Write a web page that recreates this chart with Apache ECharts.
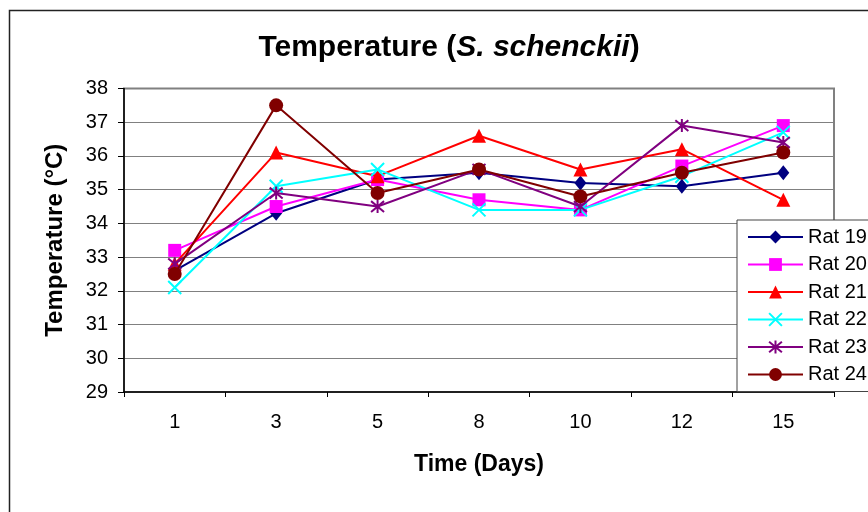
<!DOCTYPE html>
<html>
<head>
<meta charset="utf-8">
<script src="https://cdn.jsdelivr.net/npm/echarts@6/dist/echarts.min.js"></script>
<style>
  html, body { margin: 0; padding: 0; background: #fff; }
  #chart { width: 868px; height: 512px; }
</style>
</head>
<body>
<div id="chart"></div>
<script>
// Sampling days
const days = ['1', '3', '5', '8', '10', '12', '15'];

// Body temperature (°C) per rat
const rat19 = [32.6, 34.3, 35.3, 35.5, 35.2, 35.1, 35.5];
const rat20 = [33.2, 34.5, 35.3, 34.7, 34.4, 35.7, 36.9];
const rat21 = [32.8, 36.1, 35.4, 36.6, 35.6, 36.2, 34.7];
const rat22 = [32.1, 35.1, 35.6, 34.4, 34.4, 35.4, 36.7];
const rat23 = [32.8, 34.9, 34.5, 35.6, 34.5, 36.9, 36.4];
const rat24 = [32.5, 37.5, 34.9, 35.6, 34.8, 35.5, 36.1];

const seriesNames = ['Rat 19', 'Rat 20', 'Rat 21', 'Rat 22', 'Rat 23', 'Rat 24'];
const seriesData = [rat19, rat20, rat21, rat22, rat23, rat24];

const FONT = '"Liberation Sans", Arial, sans-serif';

// marker style per series
const styles = [
  { color: '#000080', symbol: 'diamond', size: [12, 15], stroke: false },
  { color: '#ff00ff', symbol: 'rect', size: 13, stroke: false },
  { color: '#ff0000', symbol: 'triangle', size: 14, stroke: false },
  { color: '#00ffff', symbol: 'path://M0,0L10,10M10,0L0,10', size: 13, stroke: true },
  { color: '#800080', symbol: 'path://M0,0L10,10M10,0L0,10M5,-1L5,11', size: 13, stroke: true },
  { color: '#800000', symbol: 'circle', size: 14, stroke: false }
];

const series = seriesData.map((d, i) => {
  const s = styles[i];
  return {
    name: seriesNames[i],
    type: 'line',
    data: d,
    symbol: s.symbol,
    symbolSize: s.size,
    showAllSymbol: true,
    lineStyle: { color: s.color, width: 2 },
    itemStyle: s.stroke
      ? { color: 'rgba(0,0,0,0)', borderColor: s.color, borderWidth: 2 }
      : { color: s.color, borderWidth: 0 },
    emphasis: { disabled: true },
    animation: false,
    z: 2 + i
  };
});

const chart = echarts.init(document.getElementById('chart'), null, { renderer: 'canvas' });
chart.setOption({
  backgroundColor: '#fff',
  animation: false,
  title: {
    text: '{n|Temperature (}{i|S. schenckii}{n|)}',
    left: 444,
    top: 28,
    textAlign: 'center',
    textStyle: {
      rich: {
        n: { fontFamily: FONT, fontWeight: 'bold', fontSize: 30, color: '#000' },
        i: { fontFamily: FONT, fontWeight: 'bold', fontStyle: 'italic', fontSize: 30, color: '#000' }
      }
    }
  },
  graphic: [
    {
      type: 'rect',
      shape: { x: 9.5, y: 10.5, width: 900, height: 600 },
      style: { fill: 'none', stroke: '#222', lineWidth: 1.5 },
      z: 0, silent: true
    }
  ],
  grid: {
    left: 124, right: 34, top: 88.5, bottom: 120,
    show: true, borderColor: '#808080', borderWidth: 2, backgroundColor: '#fff'
  },
  legend: {
    orient: 'vertical',
    left: 737, top: 220,
    data: seriesNames,
    itemWidth: 55, itemHeight: 16, itemGap: 7.5,
    padding: [7, 10, 7, 10],
    backgroundColor: '#fff',
    borderColor: '#444', borderWidth: 1,
    textStyle: { fontFamily: FONT, fontSize: 20, color: '#000' },
    selectedMode: false,
    z: 20
  },
  xAxis: {
    type: 'category',
    data: days,
    boundaryGap: true,
    name: 'Time (Days)',
    nameLocation: 'middle',
    nameGap: 61,
    nameTextStyle: { fontFamily: FONT, fontWeight: 'bold', fontSize: 23, color: '#000' },
    axisLine: { lineStyle: { color: '#000', width: 1.5 } },
    axisTick: { show: true, alignWithLabel: false, length: 5, lineStyle: { color: '#000' } },
    axisLabel: { fontFamily: FONT, fontSize: 20, color: '#000', margin: 20 },
    splitLine: { show: false }
  },
  yAxis: {
    type: 'value',
    min: 29, max: 38, interval: 1,
    name: 'Temperature (°C)',
    nameLocation: 'middle',
    nameGap: 57,
    nameTextStyle: { fontFamily: FONT, fontWeight: 'bold', fontSize: 24, color: '#000' },
    axisLine: { show: true, lineStyle: { color: '#000', width: 1.5 } },
    axisTick: { show: true, length: 6, lineStyle: { color: '#000' } },
    axisLabel: { fontFamily: FONT, fontSize: 20, color: '#000', margin: 16 },
    splitLine: { show: true, lineStyle: { color: '#808080', width: 1 } }
  },
  series: series
});
</script>
</body>
</html>
